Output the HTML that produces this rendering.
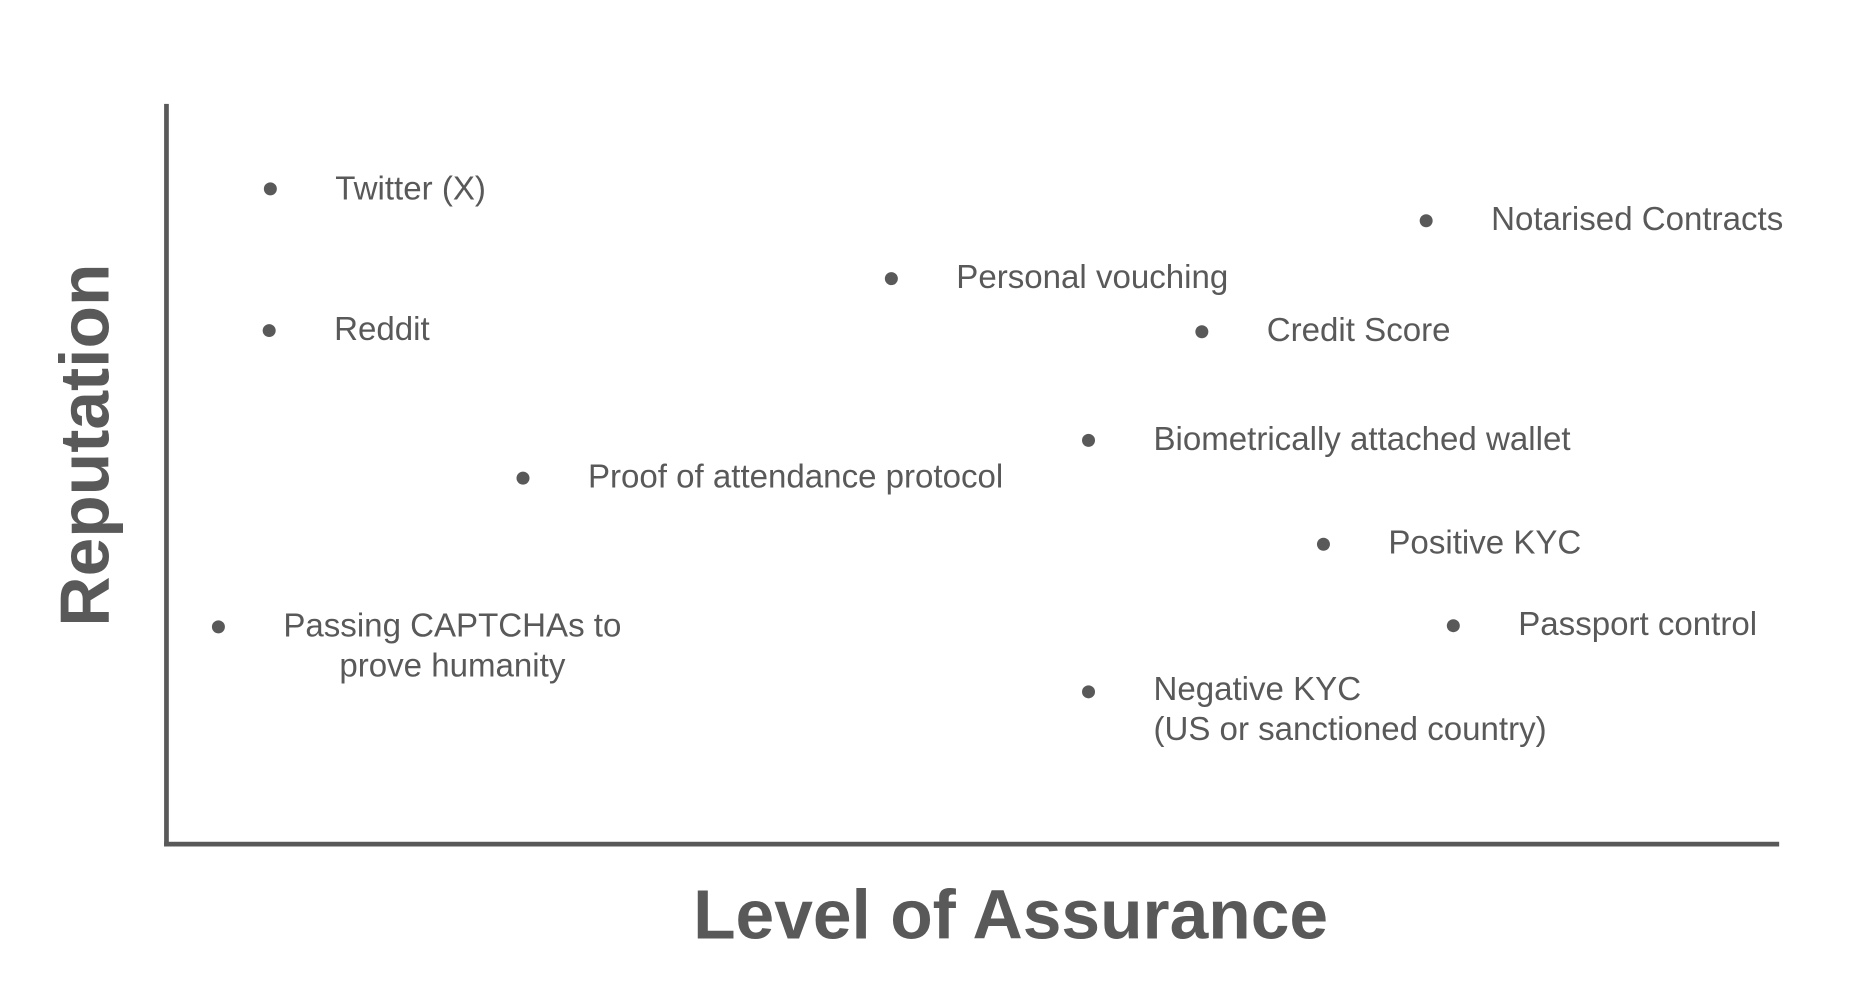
<!DOCTYPE html>
<html><head><meta charset="utf-8"><style>
html,body{margin:0;padding:0;background:#fff;}
body{width:1851px;height:996px;overflow:hidden;position:relative;}
#s{position:absolute;left:0;top:0;width:1560px;height:840px;transform:scale(1.1806);transform-origin:0 0;font-family:"Liberation Sans",Arial,sans-serif;color:#595959;}
.d{position:absolute;width:11px;height:11px;border-radius:50%;background:#595959;transform:translate(-50%,-50%);}
.t{position:absolute;font-size:28px;line-height:34px;white-space:nowrap;transform:translateY(-50%);}
.ax{position:absolute;background:#595959;}
.big{position:absolute;font-weight:bold;font-size:58.9px;white-space:nowrap;color:#595959;}
</style></head><body><div id="s">
<div class="ax" style="left:139px;top:88px;width:4px;height:629px"></div>
<div class="ax" style="left:139px;top:713px;width:1368px;height:4px"></div>
<div class="big" style="left:73px;top:377px;transform:translate(-50%,-50%) rotate(-90deg);line-height:60px">Reputation</div>
<div class="big" style="left:856px;top:776px;transform:translate(-50%,-50%);line-height:60px">Level of Assurance</div>

<div class="d" style="left:229px;top:160px"></div><div class="t" style="left:284px;top:160px">Twitter (X)</div>
<div class="d" style="left:1208px;top:187px"></div><div class="t" style="left:1263px;top:186px">Notarised Contracts</div>
<div class="d" style="left:755px;top:236px"></div><div class="t" style="left:810px;top:235px">Personal vouching</div>
<div class="d" style="left:228px;top:280px"></div><div class="t" style="left:283px;top:279px">Reddit</div>
<div class="d" style="left:1018px;top:281px"></div><div class="t" style="left:1073px;top:280px">Credit Score</div>
<div class="d" style="left:922px;top:373px"></div><div class="t" style="left:977px;top:372px">Biometrically attached wallet</div>
<div class="d" style="left:443px;top:405px"></div><div class="t" style="left:498px;top:404px">Proof of attendance protocol</div>
<div class="d" style="left:1121px;top:461px"></div><div class="t" style="left:1176px;top:460px">Positive KYC</div>
<div class="d" style="left:1231px;top:530px"></div><div class="t" style="left:1286px;top:529px">Passport control</div>
<div class="d" style="left:185px;top:531px"></div><div class="t" style="left:240px;top:547px;text-align:center">Passing CAPTCHAs to<br>prove humanity</div>
<div class="d" style="left:922px;top:586px"></div><div class="t" style="left:977px;top:601px">Negative KYC<br>(US or sanctioned country)</div>
</div></body></html>
